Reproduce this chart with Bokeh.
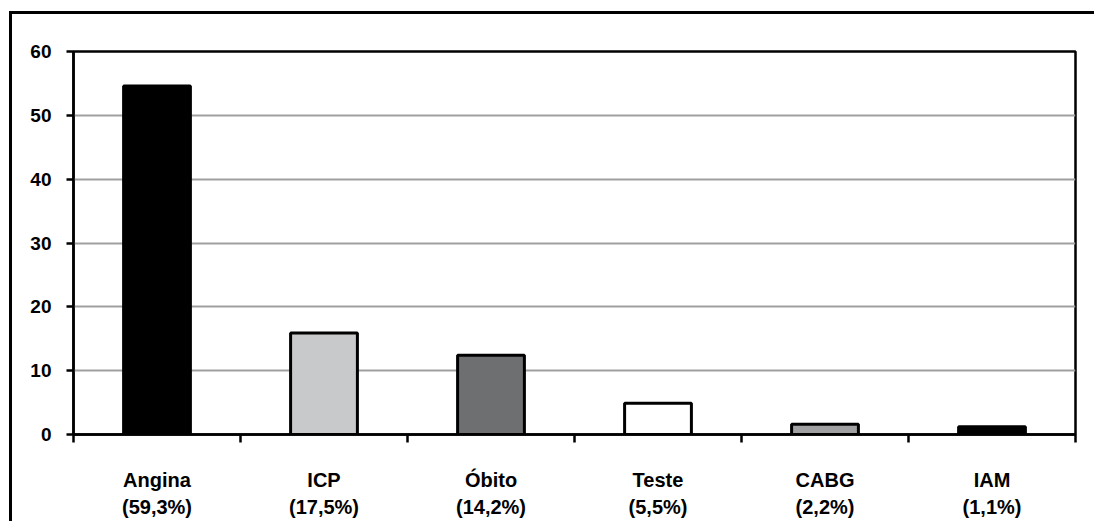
from bokeh.plotting import figure
from bokeh.models import ColumnDataSource, Range1d, FixedTicker, InlineStyleSheet
from bokeh.embed import file_html
from bokeh.resources import INLINE

# Eventos no seguimento (número de pacientes)
categories = ["Angina", "ICP", "Óbito", "Teste", "CABG", "IAM"]
percent_labels = ["(59,3%)", "(17,5%)", "(14,2%)", "(5,5%)", "(2,2%)", "(1,1%)"]
counts = [54.6, 15.9, 12.4, 4.9, 1.6, 1.2]
bar_colors = ["#000000", "#c8c9cb", "#6e6f71", "#ffffff", "#a0a0a2", "#000000"]
y_ticks = [0, 10, 20, 30, 40, 50, 60]

FONT = "Liberation Sans"

xs = [i + 0.5 for i in range(len(categories))]
src = ColumnDataSource(dict(x=xs, top=counts, color=bar_colors))

# outer chart-area border drawn over the canvas
frame_css = InlineStyleSheet(css="""
:host { position: relative; }
:host::after {
  content: "";
  position: absolute;
  left: 9px; top: 11px; width: 1200px; height: 700px;
  border: 3px solid #000;
  pointer-events: none;
  box-sizing: border-box;
}
""")

p = figure(width=1094, height=521, output_backend="svg", toolbar_location=None,
           x_range=Range1d(0, len(categories)), y_range=Range1d(0, 60),
           min_border_left=73, min_border_right=19,
           min_border_top=51, min_border_bottom=86,
           stylesheets=[frame_css])
p.background_fill_color = "white"
p.border_fill_color = "white"
p.outline_line_color = "black"
p.outline_line_width = 2.5

p.vbar(x="x", top="top", bottom=0, width=0.40, source=src,
       fill_color="color", line_color="black", line_width=3)

# Y axis
p.yaxis.ticker = FixedTicker(ticks=y_ticks, minor_ticks=[])
p.yaxis.axis_line_color = "black"
p.yaxis.axis_line_width = 2.5
p.yaxis.major_tick_line_color = "black"
p.yaxis.major_tick_line_width = 2.5
p.yaxis.major_tick_out = 7
p.yaxis.major_tick_in = 0
p.yaxis.major_label_standoff = 15
p.yaxis.major_label_text_font = FONT
p.yaxis.major_label_text_font_style = "bold"
p.yaxis.major_label_text_font_size = "19px"
p.yaxis.major_label_text_color = "black"

# X axis: labels under each bar, tick marks at the category boundaries
p.xaxis.ticker = FixedTicker(ticks=xs,
                             minor_ticks=list(range(len(categories) + 1)))
p.xaxis.major_label_overrides = {x: f"{c}\n{pc}" for x, c, pc
                                 in zip(xs, categories, percent_labels)}
p.xaxis.axis_line_color = "black"
p.xaxis.axis_line_width = 2.5
p.xaxis.major_tick_line_color = None
p.xaxis.major_tick_out = 0
p.xaxis.major_tick_in = 0
p.xaxis.minor_tick_line_color = "black"
p.xaxis.minor_tick_line_width = 2.5
p.xaxis.minor_tick_out = 8
p.xaxis.minor_tick_in = 0
p.xaxis.major_label_standoff = 26
p.xaxis.major_label_text_font = FONT
p.xaxis.major_label_text_font_style = "bold"
p.xaxis.major_label_text_font_size = "20px"
p.xaxis.major_label_text_line_height = 1.25
p.xaxis.major_label_text_color = "black"

p.xgrid.grid_line_color = None
p.ygrid.ticker = FixedTicker(ticks=y_ticks)
p.ygrid.grid_line_color = "#a0a0a0"
p.ygrid.grid_line_width = 2

open("out.html", "w").write(file_html(p, INLINE))
